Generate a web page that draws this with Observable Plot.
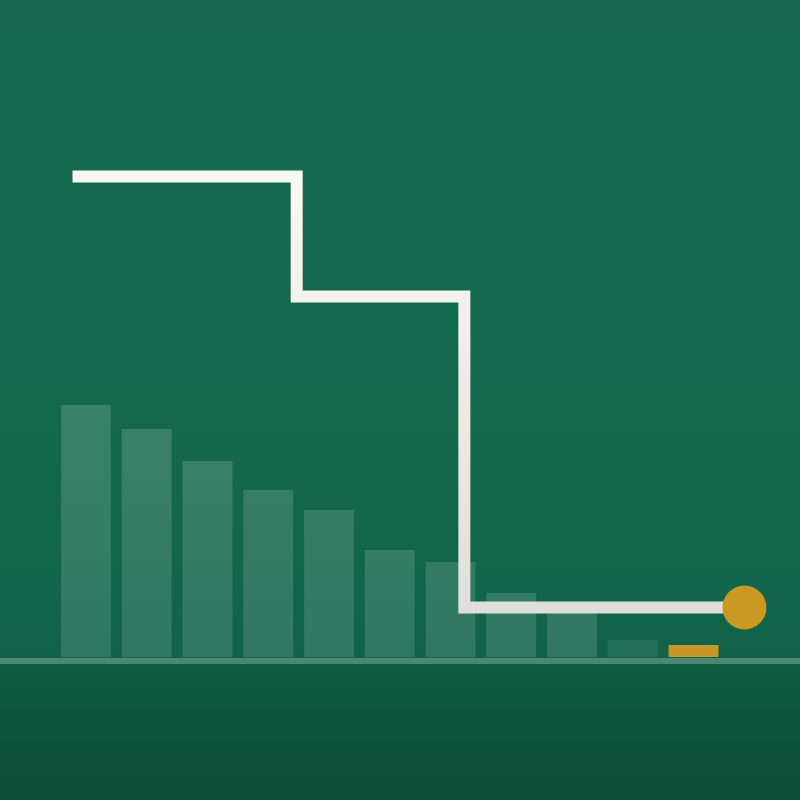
<!DOCTYPE html>
<html><head><meta charset="utf-8">
<script src="https://cdn.jsdelivr.net/npm/d3@7"></script>
<script src="https://cdn.jsdelivr.net/npm/@observablehq/plot@0.6"></script>
<style>html,body{margin:0;padding:0;background:#0b4c36;overflow:hidden} #chart svg{display:block;}</style>
</head><body><div id="chart"></div>
<script>
// Data
const barIndex = [0, 1, 2, 3, 4, 5, 6, 7, 8, 9, 10];
const barValues = [50.4, 45.6, 39.2, 33.4, 29.4, 21.4, 19.0, 12.8, 9.0, 3.4, 2.4];
const stepX = [-0.23, 3.46, 6.22, 10.83];
const stepY = [96.2, 72.2, 10, 10];
const endX = [10.83];
const endY = [10];

const bars = barIndex.map((i, k) => ({i, v: barValues[k]}));
const step = stepX.map((x, k) => ({x, y: stepY[k]}));
const endPoint = endX.map((x, k) => ({x, y: endY[k]}));
const lastBar = barIndex.length - 1;
const fadedBar = barIndex.length - 2;

const gradientDefs = () => {
  const defs = d3.create("svg:defs");
  const g = defs.append("linearGradient")
    .attr("id", "lineGrad").attr("gradientUnits", "userSpaceOnUse")
    .attr("x1", 0).attr("x2", 0).attr("y1", 170).attr("y2", 615);
  g.append("stop").attr("offset", "0%").attr("stop-color", "#faf8f2");
  g.append("stop").attr("offset", "100%").attr("stop-color", "#dedfdb");
  const b = defs.append("linearGradient")
    .attr("id", "barGrad").attr("gradientUnits", "userSpaceOnUse")
    .attr("x1", 0).attr("x2", 0).attr("y1", 400).attr("y2", 657);
  b.append("stop").attr("offset", "0%").attr("stop-color", "#ffffff").attr("stop-opacity", 0.16);
  b.append("stop").attr("offset", "100%").attr("stop-color", "#ffffff").attr("stop-opacity", 0.13);
  return defs.node();
};

const chart = Plot.plot({
  width: 800,
  height: 800,
  margin: 0,
  x: {type: "linear", domain: [0, 10], range: [86, 693.5], axis: null},
  y: {domain: [0, 100], range: [657, 157], axis: null},
  style: {
    background: "linear-gradient(180deg, #176a50 0%, #146a4e 40%, #12664a 70%, #10634a 82.2%, #0f5c42 83%, #0b4c36 100%)"
  },
  marks: [
    gradientDefs,
    Plot.rectY(bars.filter(d => d.i < fadedBar), {
      x1: d => d.i - 0.41, x2: d => d.i + 0.41, y1: 0, y2: "v",
      fill: "url(#barGrad)"
    }),
    Plot.rectY(bars.filter(d => d.i === fadedBar), {
      x1: d => d.i - 0.41, x2: d => d.i + 0.41, y1: 0, y2: "v",
      fill: "#ffffff", fillOpacity: 0.08
    }),
    Plot.rectY(bars.filter(d => d.i === lastBar), {
      x1: d => d.i - 0.41, x2: d => d.i + 0.41, y1: 0, y2: "v",
      fill: "#c8972a"
    }),
    Plot.ruleY([0], {stroke: "#ffffff", strokeOpacity: 0.25, strokeWidth: 6, dy: 3.5}),
    Plot.line(step, {
      x: "x", y: "y", curve: "step-after",
      stroke: "url(#lineGrad)", strokeWidth: 12,
      strokeLinejoin: "miter", strokeMiterlimit: 10, strokeLinecap: "butt"
    }),
    Plot.dot(endPoint, {x: "x", y: "y", r: 22, fill: "#c99a22", stroke: "none"})
  ]
});
document.getElementById("chart").append(chart);
</script>
</body></html>
